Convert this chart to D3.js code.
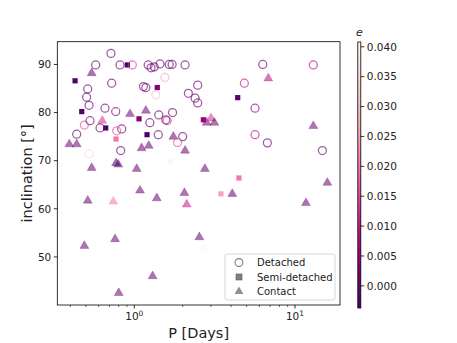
<!DOCTYPE html>
<html><head><meta charset="utf-8">
<script src="https://cdn.jsdelivr.net/npm/d3@7"></script>
<style>body{margin:0;background:#fff}svg{font-family:"DejaVu Sans",sans-serif}</style>
</head><body>
<svg id="c" width="457" height="343"></svg>
<script>
// Detached (open circles): period [days], inclination [deg], eccentricity
const detP = [0.716,0.575,0.815,0.972,1.22,1.27,1.33,1.445,1.65,1.72,2.07,0.723,1.55,1.14,1.18,1.36,2.48,0.513,0.505,0.523,2.17,2.39,2.48,0.657,0.766,0.766,1.42,1.73,1.25,1.57,1.60,0.53,0.489,0.612,0.835,0.777,1.41,0.438,2.0,1.86,0.523,0.823,6.3,13.0,4.84,5.64,5.64,6.73,14.8];
const detI = [92.3,89.9,89.9,89.9,89.9,89.3,89.5,90.1,90.0,90.0,89.9,86.1,87.3,85.4,85.2,83.7,85.7,84.9,83.2,81.5,84.0,83.0,82.0,80.9,80.2,81.3,79.5,80.0,77.9,78.5,78.3,78.3,77.4,76.8,76.6,76.2,75.4,75.5,75.0,73.8,71.4,72.1,90.0,89.9,86.1,80.9,75.4,73.7,72.1];
const detE = [0.0,0.0,0.0,0.013,0.0,0.0,0.0,0.0,0.0,0.0,0.0,0.0,0.025,0.0,0.0,0.028,0.0,0.0,0.0,0.0,0.0,0.0,0.0,0.0,0.0,0.040,0.0,0.0,0.0,0.0,0.012,0.0,0.015,0.0,0.0,0.015,0.0,0.0,0.0,0.015,0.033,0.0,0.0,0.008,0.010,0.003,0.008,0.0,0.0];
// Semi-detached (filled squares)
const semiP = [0.905,0.428,1.39,0.471,1.07,2.69,0.664,0.77,1.20,1.67,4.40,4.48,3.46];
const semiI = [89.9,86.6,85.2,80.2,78.7,78.5,76.8,74.5,75.4,69.8,83.1,66.4,63.1];
const semiE = [-0.003,-0.003,0.003,-0.003,0.003,0.006,-0.003,0.020,-0.003,0.040,-0.002,0.020,0.025];
// Contact (filled triangles)
const conP = [0.543,0.94,1.18,0.632,0.394,0.438,1.75,1.11,1.23,2.07,0.543,0.77,0.795,1.035,2.75,1.085,1.38,2.05,2.12,0.513,0.74,0.489,0.759,2.54,1.30,0.80,2.82,3.0,3.15,6.82,13.0,4.07,11.7,15.9,2.69];
const conI = [88.2,79.7,80.4,78.3,73.4,73.4,75.0,72.6,73.1,72.1,68.5,69.5,69.2,68.3,68.3,63.8,62.2,63.3,60.9,61.7,61.5,52.3,53.7,54.1,46.0,42.5,77.9,78.8,77.9,87.1,77.2,63.1,61.2,65.4,51.9];
const conE = [0.0,0.0,0.0,0.012,0.0,0.0,0.0,0.0,0.0,0.0,0.0,-0.003,-0.003,0.0,0.0,0.0,0.0,0.0,0.010,0.0,0.020,0.0,0.0,0.0,0.0,0.0,0.0,0.012,0.0,0.008,0.0,0.0,0.0,0.0,0.040];
const yTicks = [50,60,70,80,90];
const cTicks = [0.000,0.005,0.010,0.015,0.020,0.025,0.030,0.035,0.040];
const legendLabels = ["Detached","Semi-detached","Contact"];

const svg = d3.select("#c");
const L=57.3, R=340, T=41.7, B=305;
const x = d3.scaleLog().domain([Math.pow(10,(L-134.3)/160.7), Math.pow(10,(R-134.3)/160.7)]).range([L,R]);
const y = d3.scaleLinear().domain([40.0, 94.73]).range([B,T]);
const eMin=-0.0037, eMax=0.0408;
const cnorm = d3.scaleLinear().domain([eMin,eMax]).range([0,1]).clamp(true);
const cmap = e => d3.interpolateRdPu(1-cnorm(e));

const g = svg.append("g");
// contact triangles
const tri = d3.symbol().type(d3.symbolTriangle).size(34);
g.selectAll("path.con").data(d3.range(conP.length)).join("path")
  .attr("transform",i=>`translate(${x(conP[i])},${y(conI[i])})`)
  .attr("d",tri).attr("fill",i=>cmap(conE[i])).attr("fill-opacity",0.55)
  .attr("stroke",i=>cmap(conE[i])).attr("stroke-opacity",0.55).attr("stroke-width",0.5);
// semi squares
g.selectAll("rect.semi").data(d3.range(semiP.length)).join("rect")
  .attr("x",i=>x(semiP[i])-2.6).attr("y",i=>y(semiI[i])-2.6).attr("width",5.2).attr("height",5.2)
  .attr("fill",i=>cmap(semiE[i]));
// detached circles
g.selectAll("circle.det").data(d3.range(detP.length)).join("circle")
  .attr("cx",i=>x(detP[i])).attr("cy",i=>y(detI[i])).attr("r",4)
  .attr("fill","none").attr("stroke",i=>cmap(detE[i])).attr("stroke-opacity",0.65).attr("stroke-width",1.25);

// axes
const ax = svg.append("g");
ax.append("rect").attr("x",L).attr("y",T).attr("width",R-L).attr("height",B-T)
  .attr("fill","none").attr("stroke","#000").attr("stroke-width",0.8);
const xmaj=[1,10];
const xmin=[];
for (let d=0.1; d<100; d*=10) for (let k=2;k<10;k++){const v=k*d; if(v>=x.domain()[0]&&v<=x.domain()[1]) xmin.push(v);}
ax.selectAll("line.xmin").data(xmin).join("line").attr("x1",d=>x(d)).attr("x2",d=>x(d)).attr("y1",B).attr("y2",B+2)
  .attr("stroke","#000").attr("stroke-width",0.6);
ax.selectAll("line.xmaj").data(xmaj).join("line").attr("x1",d=>x(d)).attr("x2",d=>x(d)).attr("y1",B).attr("y2",B+3.5)
  .attr("stroke","#000").attr("stroke-width",0.8);
xmaj.forEach(d=>{
  const t=ax.append("text").attr("x",x(d)).attr("y",320).attr("text-anchor","middle").attr("font-size",10.5).attr("fill","#222");
  t.append("tspan").text("10");
  t.append("tspan").attr("dy",-4.5).attr("font-size",7.5).text(Math.round(Math.log10(d)));
});
ax.selectAll("line.yt").data(yTicks).join("line").attr("x1",L-3.5).attr("x2",L).attr("y1",d=>y(d)).attr("y2",d=>y(d))
  .attr("stroke","#000").attr("stroke-width",0.8);
ax.selectAll("text.yl").data(yTicks).join("text").attr("x",L-6).attr("y",d=>y(d)+3.8).attr("text-anchor","end")
  .attr("font-size",10.5).attr("fill","#222").text(d=>d);
svg.append("text").attr("x",(L+R)/2).attr("y",338).attr("text-anchor","middle").attr("font-size",14.5).attr("fill","#222").text("P [Days]");
svg.append("text").attr("transform",`translate(32,${(T+B)/2}) rotate(-90)`).attr("text-anchor","middle").attr("font-size",14.5).attr("fill","#222").text("inclination [°]");

// legend
const lg = svg.append("g");
lg.append("rect").attr("x",225).attr("y",254).attr("width",110).attr("height",46).attr("rx",2.5)
  .attr("fill","#fff").attr("fill-opacity",0.8).attr("stroke","#ccc").attr("stroke-width",0.8);
const ly=[262.5,277,291.5];
lg.append("circle").attr("cx",239).attr("cy",ly[0]).attr("r",3.9).attr("fill","none").attr("stroke","#7a7f8c").attr("stroke-width",1.1);
lg.append("rect").attr("x",239-3).attr("y",ly[1]-3).attr("width",6).attr("height",6).attr("fill","#808080").attr("stroke","#555").attr("stroke-width",0.6);
lg.append("path").attr("transform",`translate(239,${ly[2]})`).attr("d",tri).attr("fill","#6e7480").attr("fill-opacity",0.8);
legendLabels.forEach((s,i)=>lg.append("text").attr("x",257).attr("y",ly[i]+3.6).attr("font-size",10).attr("fill","#222").text(s));

// colorbar
const cbX=357.8, cbW=3, cbT=42, cbB=308;
const cy = d3.scaleLinear().domain([eMin,eMax]).range([cbB,cbT]);
const defs = svg.append("defs");
const grad = defs.append("linearGradient").attr("id","cg").attr("x1",0).attr("y1",1).attr("x2",0).attr("y2",0);
d3.range(0,1.0001,0.05).forEach(t=>grad.append("stop").attr("offset",t).attr("stop-color",d3.interpolateRdPu(1-t)));
svg.append("rect").attr("x",cbX).attr("y",cbT).attr("width",cbW).attr("height",cbB-cbT).attr("fill","url(#cg)")
  .attr("stroke","#000").attr("stroke-width",0.8);
svg.selectAll("line.ct").data(cTicks).join("line").attr("x1",cbX+cbW).attr("x2",cbX+cbW+3.5).attr("y1",d=>cy(d)).attr("y2",d=>cy(d))
  .attr("stroke","#000").attr("stroke-width",0.8);
svg.selectAll("text.cl").data(cTicks).join("text").attr("x",cbX+cbW+6).attr("y",d=>cy(d)+3.8)
  .attr("font-size",10.5).attr("fill","#222").text(d=>d3.format(".3f")(d));
svg.append("text").attr("x",cbX+cbW/2).attr("y",36).attr("text-anchor","middle").attr("font-size",11).attr("font-style","italic").attr("fill","#222").text("e");
</script>
</body></html>
